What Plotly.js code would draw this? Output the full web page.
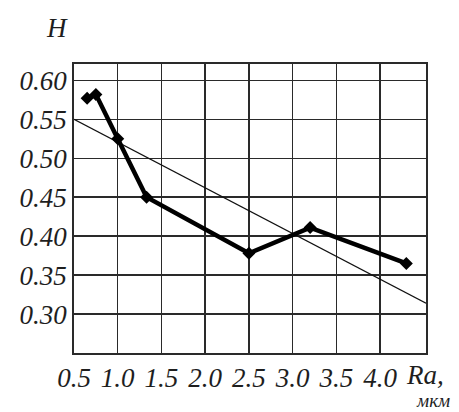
<!DOCTYPE html>
<html>
<head>
<meta charset="utf-8">
<script src="https://cdn.plot.ly/plotly-3.0.1.min.js"></script>
<style>html,body{margin:0;padding:0;background:#fff;}#chart{width:459px;height:412px;}</style>
</head>
<body>
<div id="chart"></div>
<script>
// Data
const raValues = [0.65, 0.75, 1.0, 1.33, 2.5, 3.2, 4.3];
const hValues = [0.577, 0.582, 0.525, 0.450, 0.378, 0.411, 0.365];
const trendX = [0.5, 4.525];
const trendY = [0.550, 0.314];
const xTickVals = [0.5, 1.0, 1.5, 2.0, 2.5, 3.0, 3.5, 4.0];
const xTickText = ["0.5", "1.0", "1.5", "2.0", "2.5", "3.0", "3.5", "4.0"];
const yTickVals = [0.30, 0.35, 0.40, 0.45, 0.50, 0.55, 0.60];
const yTickText = ["0.30", "0.35", "0.40", "0.45", "0.50", "0.55", "0.60"];

const serif = "Liberation Serif";
const txt = '#1e1e1e';

const traces = [
  {
    x: trendX, y: trendY, mode: 'lines', type: 'scatter',
    line: {color: '#111', width: 1.2}, hoverinfo: 'skip', showlegend: false
  },
  {
    x: raValues, y: hValues, mode: 'lines+markers', type: 'scatter',
    line: {color: '#000', width: 4.5},
    marker: {symbol: 'diamond', size: 10, color: '#000'},
    showlegend: false
  }
];

const layout = {
  width: 459, height: 412,
  margin: {l: 74, r: 33, t: 64, b: 59},
  paper_bgcolor: '#fff', plot_bgcolor: '#fff',
  showlegend: false,
  xaxis: {
    range: [0.5, 4.525],
    tickvals: xTickVals, ticktext: xTickText,
    showgrid: true, gridcolor: '#2a2a2a', gridwidth: 1.5,
    showline: true, linecolor: '#2a2a2a', linewidth: 1.8, mirror: true,
    zeroline: false, ticks: '', ticklen: 0,
    tickfont: {family: serif, size: 27, color: txt, style: 'italic'},
    automargin: false
  },
  yaxis: {
    range: [0.25, 0.621],
    tickvals: yTickVals, ticktext: yTickText,
    showgrid: true, gridcolor: '#2a2a2a', gridwidth: 1.5,
    showline: true, linecolor: '#2a2a2a', linewidth: 1.8, mirror: true,
    zeroline: false, ticks: '', ticklen: 0,
    tickfont: {family: serif, size: 27, color: txt, style: 'italic'},
    automargin: false
  },
  annotations: [
    {text: 'H', xref: 'paper', yref: 'paper', x: (57 - 74) / 352, y: 1 + (64 - 28) / 289,
     showarrow: false, xanchor: 'center', yanchor: 'middle',
     font: {family: serif, size: 27, color: txt, style: 'italic'}},
    {text: 'Ra,', xref: 'paper', yref: 'paper', x: (404 - 74) / 352, y: -(375 - 353) / 289,
     showarrow: false, xanchor: 'left', yanchor: 'middle',
     font: {family: serif, size: 27, color: txt, style: 'italic'}},
    {text: 'мкм', xref: 'paper', yref: 'paper', x: (414 - 74) / 352, y: -(401 - 353) / 289,
     showarrow: false, xanchor: 'left', yanchor: 'middle',
     font: {family: serif, size: 19, color: txt, style: 'italic'}}
  ]
};

Plotly.newPlot('chart', traces, layout, {staticPlot: true, displayModeBar: false});
</script>
</body>
</html>
